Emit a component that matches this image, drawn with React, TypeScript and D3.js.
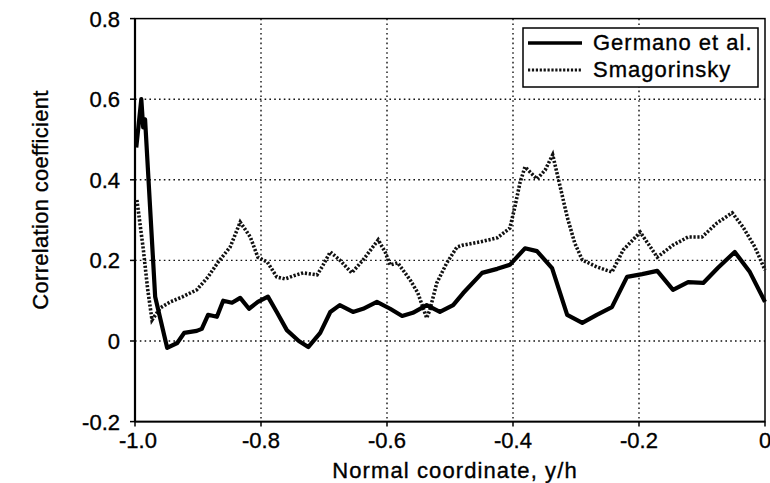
import React from "react";
import * as d3 from "d3";

const xTicks = [-1.0, -0.8, -0.6, -0.4, -0.2, 0];
const xTickLabels = ["-1.0", "-0.8", "-0.6", "-0.4", "-0.2", "0"];
const yTicks = [-0.2, 0, 0.2, 0.4, 0.6, 0.8];
const yTickLabels = ["-0.2", "0", "0.2", "0.4", "0.6", "0.8"];
const seriesNames = ["Germano et al.", "Smagorinsky"];

const germanoX = [-0.998, -0.99, -0.987, -0.984, -0.968, -0.949, -0.933, -0.922, -0.902, -0.894, -0.884, -0.87, -0.86, -0.846, -0.833, -0.819, -0.805, -0.789, -0.775, -0.759, -0.74, -0.725, -0.706, -0.69, -0.675, -0.654, -0.638, -0.616, -0.595, -0.576, -0.559, -0.537, -0.516, -0.495, -0.479, -0.449, -0.425, -0.405, -0.381, -0.362, -0.338, -0.314, -0.29, -0.267, -0.243, -0.219, -0.195, -0.171, -0.146, -0.122, -0.098, -0.075, -0.048, -0.024, 0.0];
const germanoY = [0.48, 0.6, 0.53, 0.55, 0.11, -0.017, -0.005, 0.02, 0.025, 0.03, 0.065, 0.06, 0.1, 0.095, 0.107, 0.08, 0.097, 0.11, 0.072, 0.027, 0.0, -0.015, 0.02, 0.072, 0.089, 0.072, 0.08, 0.097, 0.08, 0.062, 0.07, 0.089, 0.072, 0.089, 0.119, 0.169, 0.179, 0.189, 0.23, 0.223, 0.181, 0.065, 0.045, 0.065, 0.084, 0.159, 0.166, 0.174, 0.127, 0.146, 0.144, 0.181, 0.221, 0.171, 0.097];

const smagX = [-0.997, -0.987, -0.98, -0.973, -0.96, -0.944, -0.924, -0.902, -0.884, -0.868, -0.849, -0.833, -0.817, -0.805, -0.79, -0.775, -0.762, -0.748, -0.733, -0.711, -0.703, -0.69, -0.675, -0.656, -0.638, -0.614, -0.603, -0.595, -0.583, -0.563, -0.551, -0.537, -0.532, -0.521, -0.505, -0.489, -0.479, -0.452, -0.425, -0.405, -0.397, -0.389, -0.381, -0.362, -0.349, -0.337, -0.325, -0.314, -0.302, -0.29, -0.267, -0.243, -0.225, -0.198, -0.171, -0.146, -0.122, -0.1, -0.076, -0.052, -0.035, -0.016, 0.0];
const smagY = [0.35, 0.23, 0.13, 0.052, 0.082, 0.097, 0.11, 0.127, 0.159, 0.196, 0.233, 0.295, 0.258, 0.208, 0.196, 0.159, 0.154, 0.162, 0.169, 0.164, 0.184, 0.221, 0.201, 0.169, 0.201, 0.251, 0.221, 0.189, 0.194, 0.151, 0.119, 0.057, 0.077, 0.144, 0.194, 0.233, 0.238, 0.246, 0.256, 0.28, 0.333, 0.392, 0.432, 0.402, 0.424, 0.462, 0.382, 0.308, 0.243, 0.201, 0.184, 0.171, 0.226, 0.27, 0.208, 0.238, 0.258, 0.258, 0.293, 0.318, 0.283, 0.233, 0.176];

const W = 770;
const H = 483;
const left = 135;
const right = 765;
const top = 18.6;
const bottom = 421.6;
const FONT = "'Liberation Sans', Arial, Helvetica, sans-serif";
const textInk = { fill: "#000", stroke: "#000", strokeWidth: 0.35 };

export default function App() {
  const x = d3.scaleLinear().domain([-1, 0]).range([left, right]);
  const y = d3.scaleLinear().domain([-0.2, 0.8]).range([bottom, top]);
  const line = d3
    .line<[number, number]>()
    .x((d) => x(d[0]))
    .y((d) => y(d[1]));
  const gData = germanoX.map((v, i) => [v, germanoY[i]] as [number, number]);
  const sData = smagX.map((v, i) => [v, smagY[i]] as [number, number]);

  return (
    <svg
      width={W}
      height={H}
      style={{ position: "absolute", left: 0, top: 0, background: "#fff" }}
      fontFamily={FONT}
    >
      <rect x={0} y={0} width={W} height={H} fill="#fff" />
      {/* grid */}
      {yTicks
        .filter((t) => t > -0.2 && t < 0.8)
        .map((t) => (
          <line
            key={"gy" + t}
            x1={left}
            x2={right}
            y1={y(t)}
            y2={y(t)}
            stroke="#111"
            strokeWidth={1.4}
            strokeDasharray="1.6 3.2"
          />
        ))}
      {xTicks
        .filter((t) => t > -1 && t < 0)
        .map((t) => (
          <line
            key={"gx" + t}
            x1={x(t)}
            x2={x(t)}
            y1={top}
            y2={bottom}
            stroke="#111"
            strokeWidth={1.4}
            strokeDasharray="1.6 3.2"
          />
        ))}
      {/* frame */}
      <rect
        x={left}
        y={top}
        width={right - left}
        height={bottom - top}
        fill="none"
        stroke="#000"
        strokeWidth={1.5}
      />
      <line x1={left} x2={left} y1={top} y2={bottom} stroke="#000" strokeWidth={2.2} />
      <line x1={left} x2={right} y1={bottom} y2={bottom} stroke="#000" strokeWidth={1.8} />
      {/* ticks */}
      {yTicks.map((t) => (
        <line key={"ty" + t} x1={left - 5} x2={left} y1={y(t)} y2={y(t)} stroke="#000" strokeWidth={1.5} />
      ))}
      {xTicks.map((t) => (
        <line key={"tx" + t} x1={x(t)} x2={x(t)} y1={bottom} y2={bottom + 5} stroke="#000" strokeWidth={1.5} />
      ))}
      {/* tick labels */}
      {yTicks.map((t, i) => (
        <text key={"ly" + t} x={120} y={y(t) + 8} textAnchor="end" fontSize={22} {...textInk}>
          {yTickLabels[i]}
        </text>
      ))}
      {xTicks.map((t, i) => (
        <text key={"lx" + t} x={x(t) + (i === 0 ? 3 : 0)} y={448} textAnchor="middle" fontSize={22} {...textInk}>
          {xTickLabels[i]}
        </text>
      ))}
      {/* axis titles */}
      <text x={455} y={478} textAnchor="middle" fontSize={22} letterSpacing={1.1} {...textInk}>
        Normal coordinate, y/h
      </text>
      <text
        transform={`translate(48,200) rotate(-90)`}
        textAnchor="middle"
        fontSize={22}
        letterSpacing={0.3}
        {...textInk}
      >
        Correlation coefficient
      </text>
      {/* series */}
      <path
        d={line(sData) || ""}
        fill="none"
        stroke="#111"
        strokeWidth={3.6}
        strokeDasharray="2.2 1.7"
      />
      <path
        d={line(gData) || ""}
        fill="none"
        stroke="#000"
        strokeWidth={4.2}
        strokeLinejoin="round"
      />
      {/* legend */}
      <rect x={523} y={28} width={235} height={59} fill="#fff" stroke="#000" strokeWidth={1.5} />
      <line x1={528} x2={582} y1={43} y2={43} stroke="#000" strokeWidth={3.5} />
      <line x1={528} x2={582} y1={70} y2={70} stroke="#111" strokeWidth={3} strokeDasharray="2.2 1.7" />
      <text x={593} y={50} fontSize={22} letterSpacing={1.0} {...textInk}>
        {seriesNames[0]}
      </text>
      <text x={593} y={77} fontSize={22} letterSpacing={1.0} {...textInk}>
        {seriesNames[1]}
      </text>
    </svg>
  );
}
